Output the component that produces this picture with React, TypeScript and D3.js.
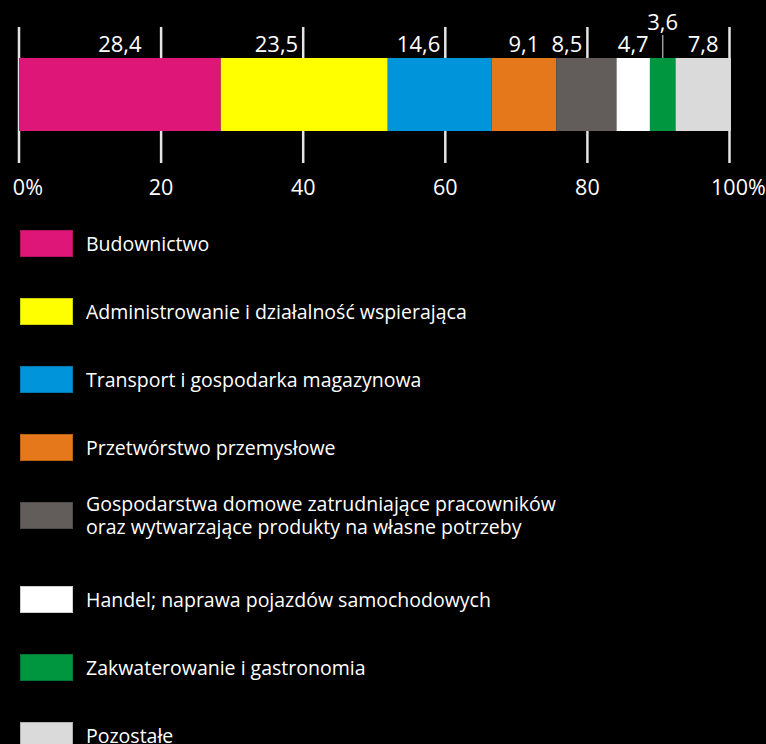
import React, { useEffect, useRef } from "react";
import * as d3 from "d3";

const categories = [
  "Budownictwo",
  "Administrowanie i działalność wspierająca",
  "Transport i gospodarka magazynowa",
  "Przetwórstwo przemysłowe",
  "Gospodarstwa domowe zatrudniające pracowników\noraz wytwarzające produkty na własne potrzeby",
  "Handel; naprawa pojazdów samochodowych",
  "Zakwaterowanie i gastronomia",
  "Pozostałe",
];
const values = [28.4, 23.5, 14.6, 9.1, 8.5, 4.7, 3.6, 7.8];
const colors = ["#DE1678", "#FFFF00", "#0095DA", "#E5781A", "#625D5B", "#FFFFFF", "#00953F", "#D9DAD9"];
const tickValues = [0, 20, 40, 60, 80, 100];

const W = 766;
const H = 744;
const FONT = "'Open Sans', 'Noto Sans', sans-serif";

export default function App() {
  const ref = useRef<SVGSVGElement>(null);

  useEffect(() => {
    document.body.style.margin = "0";
    document.body.style.background = "#000";
    const svg = d3.select(ref.current);
    svg.selectAll("*").remove();

    const x = d3.scaleLinear().domain([0, 100]).range([19, 729.5]);
    const barTop = 58;
    const barH = 73;

    // grid ticks behind the bar
    svg.append("g")
      .selectAll("line")
      .data(tickValues)
      .join("line")
      .attr("x1", d => x(d)).attr("x2", d => x(d))
      .attr("y1", 27).attr("y2", 163)
      .attr("stroke", "#e4e4e4")
      .attr("stroke-width", 2.5);

    const ends = Array.from(d3.cumsum(values));
    const starts = ends.map((e, i) => e - values[i]);

    svg.append("g")
      .selectAll("rect")
      .data(values)
      .join("rect")
      .attr("x", (d, i) => x(starts[i]))
      .attr("width", (d, i) => x(ends[i]) - x(starts[i]))
      .attr("y", barTop)
      .attr("height", barH)
      .attr("fill", (d, i) => colors[i]);

    // value labels
    const fmt = (v: number) => v.toFixed(1).replace(".", ",");
    const labels = svg.append("g")
      .attr("font-family", FONT)
      .attr("font-size", 22)
      .attr("fill", "#fff");
    values.forEach((v, i) => {
      const x0 = x(starts[i]);
      const x1 = x(ends[i]);
      let cx = (x0 + x1) / 2;
      const t = labels.append("text")
        .attr("text-anchor", "middle")
        .attr("x", cx)
        .attr("y", 52)
        .text(fmt(v));
      const w = (t.node() as SVGTextElement).getComputedTextLength();
      if (x1 - x0 < w) {
        // too narrow: lift the label and add a leader line
        t.attr("y", 30);
        labels.append("line")
          .attr("x1", cx).attr("x2", cx)
          .attr("y1", 35).attr("y2", barTop)
          .attr("stroke", "#999")
          .attr("stroke-width", 1.5);
        return;
      }
      const hit = tickValues.map(x).find(tx => tx > cx - w / 2 - 3 && tx < cx + w / 2 + 3);
      if (hit !== undefined) {
        cx = hit - 5 - w / 2;
        t.attr("x", cx);
      }
    });

    // axis labels
    const axis = svg.append("g")
      .attr("font-family", FONT)
      .attr("font-size", 21.5)
      .attr("fill", "#fff");
    tickValues.forEach((d, i) => {
      const t = axis.append("text")
        .attr("text-anchor", "middle")
        .attr("x", x(d))
        .attr("y", 195)
        .text(String(d));
      if (i === 0 || i === tickValues.length - 1) {
        const w = (t.node() as SVGTextElement).getComputedTextLength();
        axis.append("text")
          .attr("x", x(d) + w / 2)
          .attr("y", 195)
          .text("%");
      }
    });

    // legend
    const legend = svg.append("g")
      .attr("font-family", FONT)
      .attr("font-size", 19.5)
      .attr("fill", "#fff");
    const lineH = 23;
    let extra = 0;
    categories.forEach((c, i) => {
      const lines = c.split("\n");
      const top = 230 + 68 * i + extra;
      legend.append("rect")
        .attr("x", 20.5)
        .attr("y", top + 0.5)
        .attr("width", 52)
        .attr("height", 26)
        .attr("fill", colors[i])
        .attr("stroke", d3.color(colors[i])!.darker(0.6).formatHex())
        .attr("stroke-width", 1);
      const cy = top + 13.5;
      const t = legend.append("text")
        .attr("x", 86)
        .attr("y", cy - (lines.length - 1) * (lineH / 2) + 7);
      t.selectAll("tspan")
        .data(lines)
        .join("tspan")
        .attr("x", 86)
        .attr("dy", (d, j) => (j === 0 ? 0 : lineH))
        .text(d => d);
      extra += (lines.length - 1) * 16;
    });
  }, []);

  return <svg ref={ref} width={W} height={H} style={{ display: "block", background: "#000" }} />;
}
